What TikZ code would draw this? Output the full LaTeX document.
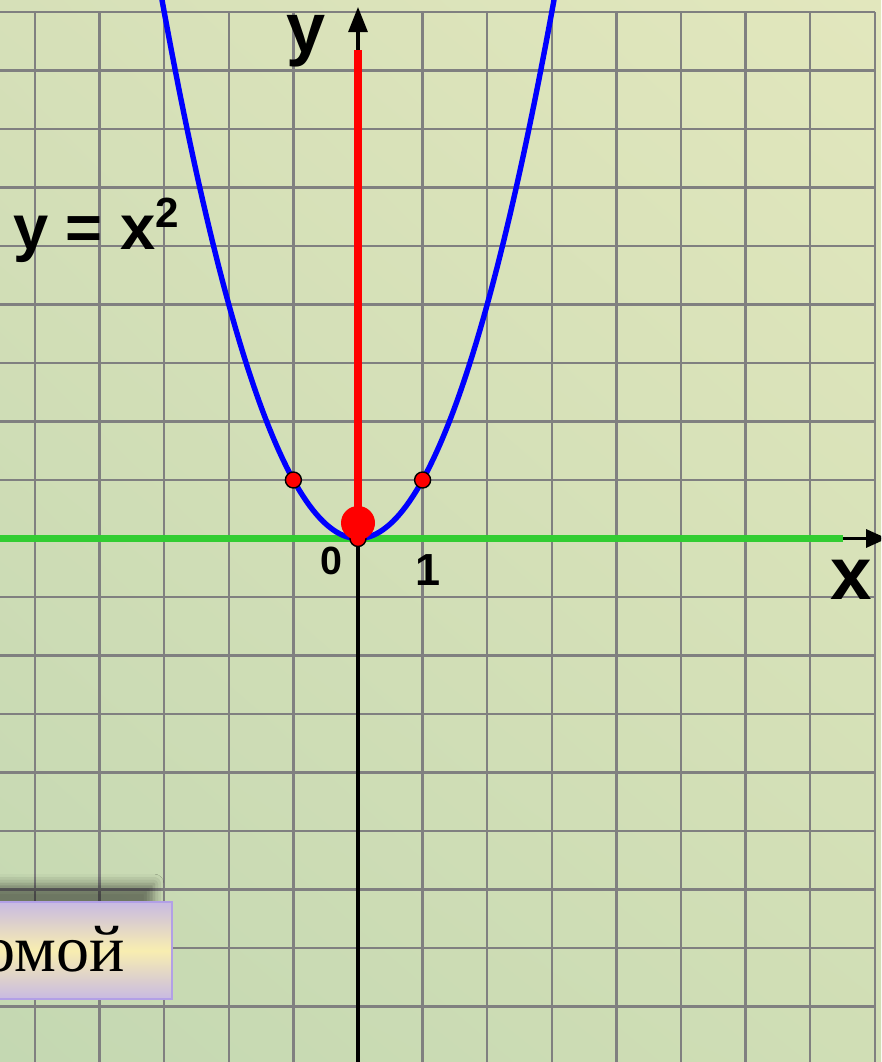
\documentclass[tikz,border=0pt]{standalone}
\usepackage{fontspec}
\setmainfont{Liberation Serif}
\setsansfont{Liberation Sans}
\usepackage{tikz}
\usepackage{xcolor}
\usetikzlibrary{arrows.meta, positioning, shadings, shadows.blur}
\definecolor{fondoA}{RGB}{214,224,184}
\definecolor{fondoB}{RGB}{226,231,189}
\definecolor{fondoC}{RGB}{196,216,178}
\definecolor{fondoD}{RGB}{208,222,181}
\definecolor{gris}{RGB}{128,128,128}
\definecolor{verde}{RGB}{50,205,50}
\definecolor{lila}{RGB}{200,186,226}
\definecolor{amarillo}{RGB}{248,238,176}
\definecolor{borde}{RGB}{178,160,230}
\newcommand{\tam}[1]{\fontsize{#1}{#1}\selectfont}
\tikzstyle{rejilla} = [draw=gris, line width=1.6pt, xstep=1.615cm, ystep=1.4625cm]
\tikzstyle{etiqueta} = [font=\sffamily\bfseries, 
inner sep=0pt, 
anchor=base]
\tikzstyle{punto} = [circle, 
fill=red, 
draw=black, 
line width=1pt, 
minimum size=0.4cm, 
inner sep=0pt]
\tikzstyle{boton} = [rectangle, 
draw=borde, 
line width=0.05cm, 
top color=lila, bottom color=lila, middle color=amarillo, 
minimum height=2.425cm, 
minimum width=5.9cm, 
inner sep=0pt, 
text height=1.025cm, text depth=0pt, 
font=\tam{47}, 
blur shadow={shadow xshift=-0.45cm, shadow yshift=0.45cm, shadow opacity=45, shadow blur radius=0.25cm}]
\tikzstyle{ejex} = [line width=2.2pt,-{Triangle[length=0.525cm, width=0.45cm]}]
\tikzstyle{ejey} = [line width=2.2pt,-{Triangle[length=0.625cm, width=0.475cm]}]

\begin{document}
\begin{tikzpicture}[x=1.615cm, y=1.4625cm]
        % Fondo y rejilla
        \useasboundingbox (-5.5418,-8.9487) rectangle (8.0960,9.2051);
        \clip (-5.5418,-8.9487) rectangle (8.0960,9.2051);
        \shade[upper left=fondoA, upper right=fondoB, lower left=fondoC, lower right=fondoD] (-5.5418,-8.9487) rectangle (8.0960,9.2051);
        \draw[rejilla] (-5.6,-9.2) grid (8,9);
        
        % Puntos de los ejes
        \coordinate (origen) at (0,0);
        \coordinate (yinf) at (0,-9.2);
        \coordinate (ysup) at (0,8.35);
        \coordinate (ypunta) at (0,9.085);
        \coordinate (xinf) at (-5.7,0);
        \coordinate (xsup) at (7.508,0);
        \coordinate (xpunta) at (8.19,0);
        
        % Ejes
        \draw[line width=2.2pt] (yinf) -- (ysup);
        \draw[ejey] (ysup) -- (ypunta);
        \draw[verde, line width=0.19cm] (xinf) -- (xsup);
        \draw[ejex] (xsup) -- (xpunta);
        
        % Parabola y = x^2
        \draw[blue, line width=0.135cm] plot[domain=-3.08:3.08, samples=120] (\x,{\x*\x});
        
        % Semieje rojo
        \draw[red, line width=0.22cm] (origen) -- (ysup);
        
        % Puntos
        \node (p1) [punto] at (-1,1) {};
        \node (p2) [punto] at (1,1) {};
        \node (p0) [punto] at (origen) {};
        \node (pm) [circle, fill=red, minimum size=0.85cm, inner sep=0pt] at (0,0.265) {};
        
        % Etiquetas
        \node (ly) [etiqueta, text height=0.9cm] at (-0.805,8.30) {\tam{50}y};
        \node (lx) [etiqueta] at (7.632,-1.051) {\tam{53}x};
        \node (lcero) [etiqueta] at (-0.41,-0.607) {\tam{28}0};
        \node (luno) [etiqueta] at (1.076,-0.795) {\tam{32}1};
        \node (lfun) [etiqueta, anchor=base west] at (-5.341,4.932) {\tam{45}y = x\raisebox{16.3pt}{\tam{30}2}};
        
        % Boton
        \node (boton) [boton, anchor=north east] at (-2.864,-6.197) {омой};

    \end{tikzpicture}
\end{document}
